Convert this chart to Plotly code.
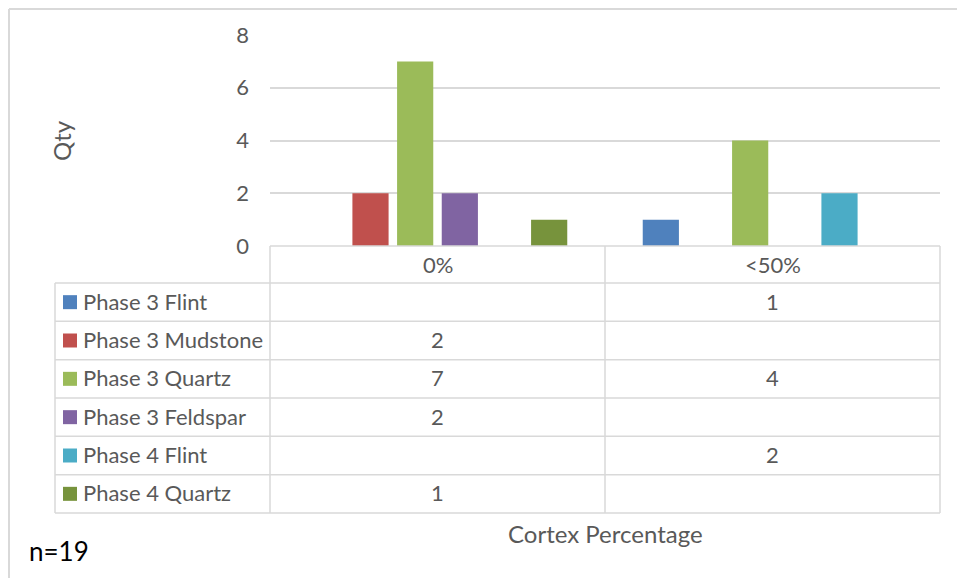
import plotly.graph_objects as go

categories = ["0%", "<50%"]
series_names = ["Phase 3 Flint", "Phase 3 Mudstone", "Phase 3 Quartz",
                "Phase 3 Feldspar", "Phase 4 Flint", "Phase 4 Quartz"]
series_values = [
    [None, 1],
    [2, None],
    [7, 4],
    [2, None],
    [None, 2],
    [1, None],
]
series_colors = ["#4F81BD", "#C0504D", "#9BBB59", "#8064A2", "#4BACC6", "#77933C"]
y_ticks = [0, 2, 4, 6, 8]
x_title = "Cortex Percentage"
y_title = "Qty"
note = "n=19"

OFF = 8  # page body margin offset
W, H = 965, 578
PL, PT, PW, PH = 270, 35, 670, 211  # plot area in screen pixels
L, T = PL - OFF, PT - OFF
R = W - L - PW
B = H - T - PH
FONT = "Lato"
GRAY = "#595959"
LINE = "#d9d9d9"
FS = 22


def px(x):
    return (x - PL) / PW


def py(y):
    return (PT + PH - y) / PH


fig = go.Figure()
for name, vals, col in zip(series_names, series_values, series_colors):
    fig.add_trace(go.Bar(x=categories, y=vals, name=name, marker_color=col,
                         marker_line_width=0, showlegend=False))

shapes = []
annotations = []

def hline(y, x0, x1, color=LINE, w=1.5):
    shapes.append(dict(type="line", xref="paper", yref="paper", x0=px(x0), x1=px(x1),
                       y0=py(y), y1=py(y), line=dict(color=color, width=w), layer="above"))

def vline(x, y0, y1, color=LINE, w=1.5):
    shapes.append(dict(type="line", xref="paper", yref="paper", x0=px(x), x1=px(x),
                       y0=py(y0), y1=py(y1), line=dict(color=color, width=w), layer="above"))

# outer chart border
hline(9, 9, 980, w=2)
vline(9, 9, 600, w=2)

# data table
table_top, header_bot, table_bot = 246, 283, 513
table_left, col_split, col_mid, table_right = 55, 270, 605, 940
hline(table_top, col_split, table_right)
n = len(series_names)
row_h = (table_bot - header_bot) / n
for i in range(n + 1):
    hline(header_bot + i * row_h, table_left, table_right)
vline(table_left, header_bot, table_bot)
vline(col_split, table_top, table_bot)
vline(col_mid, table_top, table_bot)
vline(table_right, table_top, table_bot)

# header labels
for c in categories:
    annotations.append(dict(x=c, xref="x", y=py((table_top + header_bot) / 2), yref="paper",
                            text=c, showarrow=False, font=dict(family=FONT, size=FS, color=GRAY),
                            xanchor="center", yanchor="middle"))

for i, (name, vals, col) in enumerate(zip(series_names, series_values, series_colors)):
    cy = header_bot + (i + 0.5) * row_h
    shapes.append(dict(type="rect", xref="paper", yref="paper", x0=px(63), x1=px(77),
                       y0=py(cy - 7), y1=py(cy + 7), fillcolor=col, line=dict(width=0),
                       layer="above"))
    annotations.append(dict(x=px(81), xref="paper", y=py(cy - 1), yref="paper", text=name,
                            showarrow=False, font=dict(family=FONT, size=FS, color=GRAY),
                            xanchor="left", yanchor="middle"))
    for c, v in zip(categories, vals):
        if v is not None:
            annotations.append(dict(x=c, xref="x", y=py(cy - 1), yref="paper", text=str(v),
                                    showarrow=False, font=dict(family=FONT, size=FS, color=GRAY),
                                    xanchor="center", yanchor="middle"))

annotations.append(dict(x=px(605), xref="paper", y=py(533), yref="paper", text=x_title,
                        showarrow=False, font=dict(family=FONT, size=24, color=GRAY),
                        xanchor="center", yanchor="middle"))
annotations.append(dict(x=px(61), xref="paper", y=py(141), yref="paper", text=y_title,
                        showarrow=False, textangle=-90, font=dict(family=FONT, size=24, color=GRAY),
                        xanchor="center", yanchor="middle"))
annotations.append(dict(x=px(27), xref="paper", y=py(551), yref="paper", text=note,
                        showarrow=False, font=dict(family=FONT, size=26, color="#000000"),
                        xanchor="left", yanchor="middle"))

fig.update_layout(
    width=W, height=H,
    margin=dict(l=L, r=R, t=T, b=B, autoexpand=False),
    paper_bgcolor="white", plot_bgcolor="white",
    barmode="group", bargap=0.2, bargroupgap=0.19,
    shapes=shapes, annotations=annotations,
    xaxis=dict(showticklabels=False, showgrid=False, showline=False, zeroline=False,
               ticks=""),
    yaxis=dict(range=[0, 8], tickvals=y_ticks, showgrid=True, gridcolor=LINE, gridwidth=1.5,
               zeroline=False, showline=False, ticks="", ticklabelstandoff=20,
               tickfont=dict(family=FONT, size=FS, color=GRAY)),
    font=dict(family=FONT),
)

fig.write_html("out.html")
